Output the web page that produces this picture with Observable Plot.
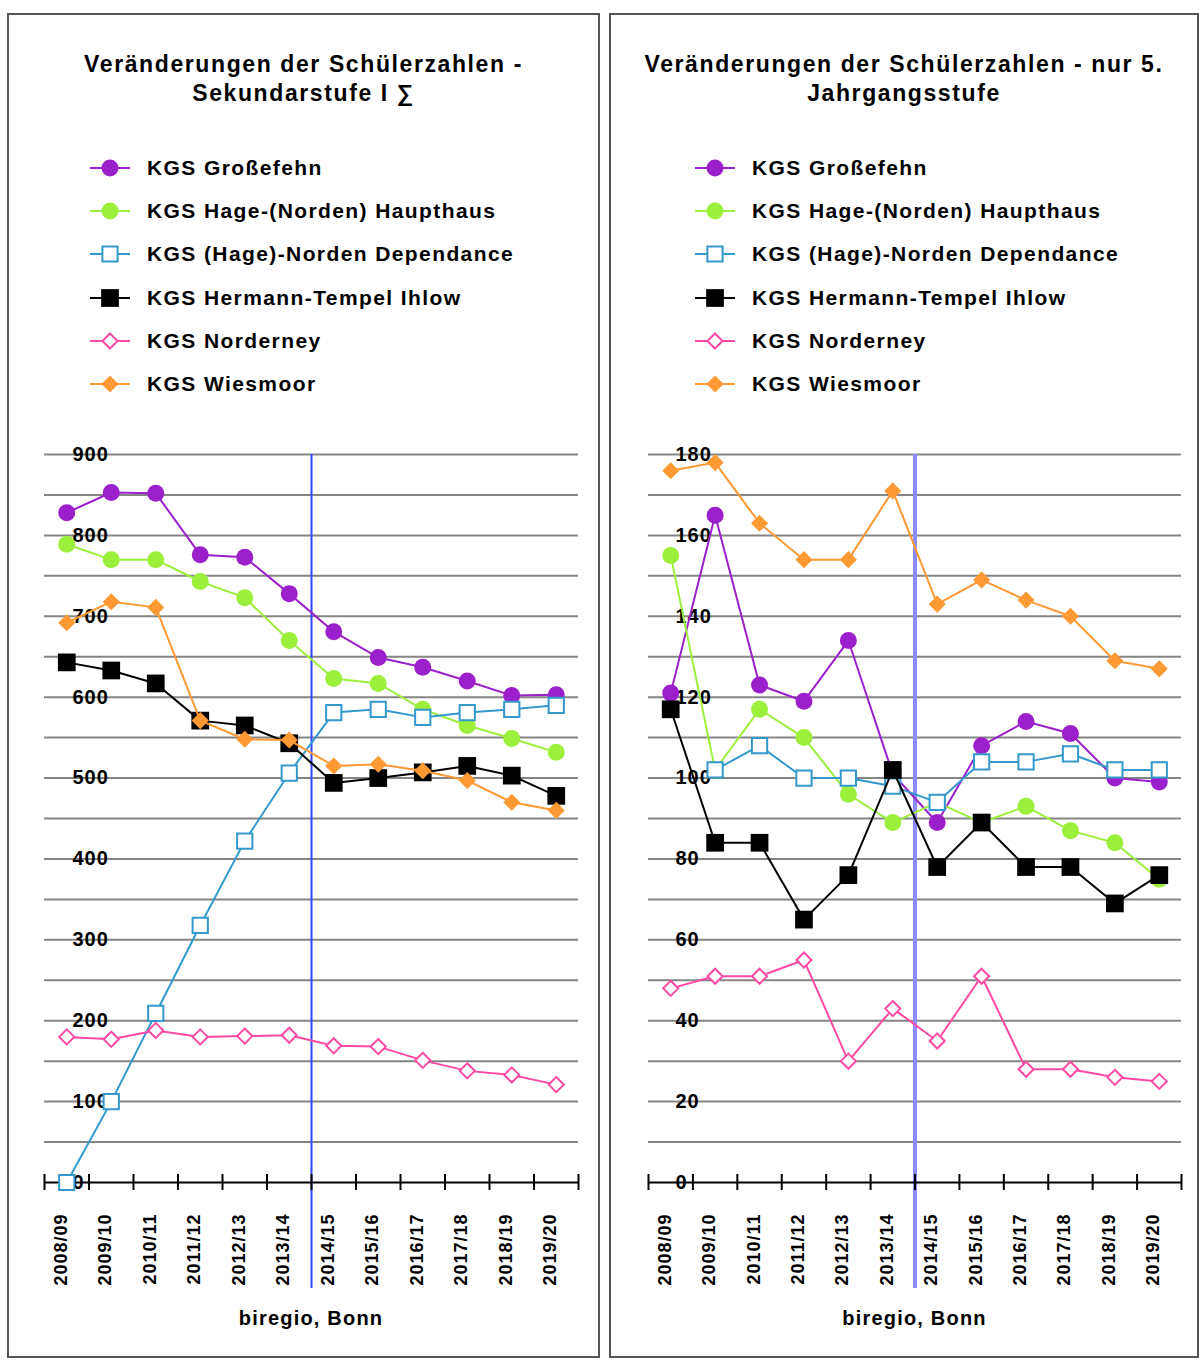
<!DOCTYPE html>
<html>
<head>
<meta charset="utf-8">
<script src="https://cdn.jsdelivr.net/npm/d3@7"></script>
<script src="https://cdn.jsdelivr.net/npm/@observablehq/plot@0.6"></script>
<style>
  body { margin: 0; width: 1200px; height: 1360px; position: relative; background: #fff; overflow: hidden;
         font-family: "Liberation Sans", Arial, Helvetica, sans-serif; color: #000; }
  .panel { position: absolute; border: 2px solid #555; box-sizing: border-box; }
  .title { position: absolute; text-align: center; font-weight: bold; font-size: 23px; letter-spacing: 1.6px; line-height: 29px; }
  .row { position: absolute; height: 24px; line-height: 24px; font-weight: bold; font-size: 21px; letter-spacing: 1.4px; white-space: nowrap; }
  .row svg { position: absolute; left: 0; top: 0; }
  .row span { position: absolute; }
  .chart { position: absolute; }
  .caption { position: absolute; text-align: center; font-weight: bold; font-size: 20px; letter-spacing: 1.2px; line-height: 24px; }
</style>
</head>
<body>
<script>
// ---------- data ----------
const years = ["2008/09","2009/10","2010/11","2011/12","2012/13","2013/14","2014/15","2015/16","2016/17","2017/18","2018/19","2019/20"];
const schools = ["KGS Großefehn","KGS Hage-(Norden) Haupthaus","KGS (Hage)-Norden Dependance","KGS Hermann-Tempel Ihlow","KGS Norderney","KGS Wiesmoor"];
const dividerAfter = "2013/14";

// Sekundarstufe I (total)
const sekGrossefehn  = [828, 853, 852, 776, 773, 728, 681, 649, 637, 620, 602, 603];
const sekHage        = [789, 770, 770, 743, 723, 670, 623, 617, 585, 565, 549, 532];
const sekDependance  = [0, 100, 209, 318, 422, 506, 581, 585, 575, 581, 585, 590];
const sekIhlow       = [643, 633, 617, 571, 565, 543, 494, 500, 507, 515, 503, 478];
const sekNorderney   = [180, 177, 188, 180, 181, 182, 169, 168, 151, 138, 133, 121];
const sekWiesmoor    = [692, 718, 711, 571, 548, 547, 515, 517, 509, 497, 470, 460];

// nur 5. Jahrgangsstufe
const j5Grossefehn   = [121, 165, 123, 119, 134, 101, 89, 108, 114, 111, 100, 99];
const j5Hage         = [155, 102, 117, 110, 96, 89, 94, 89, 93, 87, 84, 75];
const j5Dependance   = [null, 102, 108, 100, 100, 98, 94, 104, 104, 106, 102, 102];
const j5Ihlow        = [117, 84, 84, 65, 76, 102, 78, 89, 78, 78, 69, 76];
const j5Norderney    = [48, 51, 51, 55, 30, 43, 35, 51, 28, 28, 26, 25];
const j5Wiesmoor     = [176, 178, 163, 154, 154, 171, 143, 149, 144, 140, 129, 127];

const sekTicks = [0, 100, 200, 300, 400, 500, 600, 700, 800, 900];
const j5Ticks  = [0, 20, 40, 60, 80, 100, 120, 140, 160, 180];

// ---------- styles ----------
const seriesStyle = [
  {color: "#9b1fca", symbol: d3.symbolCircle,   r: 8.5, hollow: false},
  {color: "#9cf03c", symbol: d3.symbolCircle,   r: 8.5, hollow: false},
  {color: "#3399cc", symbol: d3.symbolSquare,   r: 8.6, hollow: true},
  {color: "#000000", symbol: d3.symbolSquare,   r: 10,  hollow: false},
  {color: "#ff4aa5", symbol: d3.symbolDiamond2, r: 6.8, hollow: true},
  {color: "#ff9933", symbol: d3.symbolDiamond2, r: 7.7, hollow: false}
];

function addPanel(left, width, titleLines, legendX) {
  const p = document.createElement("div");
  p.className = "panel";
  Object.assign(p.style, {left: left + "px", top: "13px", width: width + "px", height: "1345px"});
  document.body.appendChild(p);
  const t = document.createElement("div");
  t.className = "title";
  Object.assign(t.style, {left: left + "px", top: "50px", width: width + "px"});
  t.innerHTML = titleLines.join("<br>");
  document.body.appendChild(t);
  schools.forEach((name, k) => {
    const s = seriesStyle[k];
    const row = document.createElement("div");
    row.className = "row";
    Object.assign(row.style, {left: legendX + "px", top: (156 + k * 43.2) + "px", width: "480px"});
    const svg = d3.create("svg").attr("width", 44).attr("height", 24);
    svg.append("line").attr("x1", 0).attr("x2", 40).attr("y1", 12).attr("y2", 12)
      .attr("stroke", s.color).attr("stroke-width", 2);
    svg.append("path").attr("transform", "translate(20,12)")
      .attr("d", d3.symbol(s.symbol, Math.PI * s.r * s.r)())
      .attr("fill", s.hollow ? "white" : s.color)
      .attr("stroke", s.hollow ? s.color : "none").attr("stroke-width", 2);
    row.appendChild(svg.node());
    const sp = document.createElement("span");
    sp.style.left = "57px";
    sp.textContent = name;
    row.appendChild(sp);
    document.body.appendChild(row);
  });
}

function makeChart(series, yMax, gridStep, labels, opts) {
  const idx = years.map((d, i) => i);
  const boundaries = d3.range(years.length + 1).map(i => i - 0.5);
  const divider = years.indexOf(dividerAfter) + 0.5;
  const marks = [
    Plot.ruleY(d3.range(gridStep, yMax + gridStep / 2, gridStep), {stroke: "#858585", strokeWidth: 2}),
    Plot.ruleX([divider], {stroke: opts.dividerColor, strokeWidth: opts.dividerWidth, insetBottom: -106}),
    Plot.ruleY([0], {stroke: "#000", strokeWidth: 2}),
    Plot.ruleX(boundaries, {x: d => d, y1: 0, y2: 0, insetTop: -8, insetBottom: -8, stroke: "#000", strokeWidth: 2}),
    Plot.text(labels, {y: d => d, text: d => String(d), frameAnchor: "left", dx: opts.labelDx, textAnchor: "start",
                       fontSize: 20, fontWeight: "bold", fill: "#000"}),
    Plot.text(years, {x: (d, i) => i, frameAnchor: "bottom", dy: 31, rotate: -90, textAnchor: "end",
                      fontSize: 18, fontWeight: "bold", fill: "#000", letterSpacing: "1px"})
  ];
  series.forEach((vals, k) => {
    const s = seriesStyle[k];
    marks.push(Plot.line(vals, {x: (d, i) => idx[i], y: d => d, stroke: s.color, strokeWidth: 2, curve: "linear"}));
    marks.push(Plot.dot(vals, {x: (d, i) => idx[i], y: d => d, symbol: s.symbol, r: s.r,
      fill: s.hollow ? "white" : s.color, stroke: s.hollow ? s.color : "none", strokeWidth: 2}));
  });
  const svg = Plot.plot({
    width: 600, height: 880,
    marginTop: 24, marginBottom: 128, marginLeft: opts.marginLeft, marginRight: opts.marginRight,
    x: {domain: [-0.5, years.length - 0.5], axis: null},
    y: {domain: [0, yMax], axis: null},
    style: {fontFamily: '"Liberation Sans", Arial, sans-serif', letterSpacing: "1px", background: "transparent", overflow: "visible"},
    marks
  });
  svg.classList.add("chart");
  svg.style.left = opts.left + "px";
  svg.style.top = "430px";
  svg.style.position = "absolute";
  document.body.appendChild(svg);
  const cap = document.createElement("div");
  cap.className = "caption";
  Object.assign(cap.style, {left: (opts.left + opts.marginLeft) + "px", width: (600 - opts.marginLeft - opts.marginRight) + "px", top: "1306px"});
  cap.textContent = "biregio, Bonn";
  document.body.appendChild(cap);
}

addPanel(7, 593, ["Veränderungen der Schülerzahlen -", "Sekundarstufe I ∑"], 90);
addPanel(609, 590, ["Veränderungen der Schülerzahlen - nur 5.", "Jahrgangsstufe"], 695);

makeChart([sekGrossefehn, sekHage, sekDependance, sekIhlow, sekNorderney, sekWiesmoor], 900, 50, sekTicks,
  {left: 0, marginLeft: 44, marginRight: 22, labelDx: 28, dividerColor: "#3344ff", dividerWidth: 2});
makeChart([j5Grossefehn, j5Hage, j5Dependance, j5Ihlow, j5Norderney, j5Wiesmoor], 180, 10, j5Ticks,
  {left: 600, marginLeft: 48, marginRight: 19, labelDx: 27, dividerColor: "#8c8cff", dividerWidth: 4});
</script>
</body>
</html>
